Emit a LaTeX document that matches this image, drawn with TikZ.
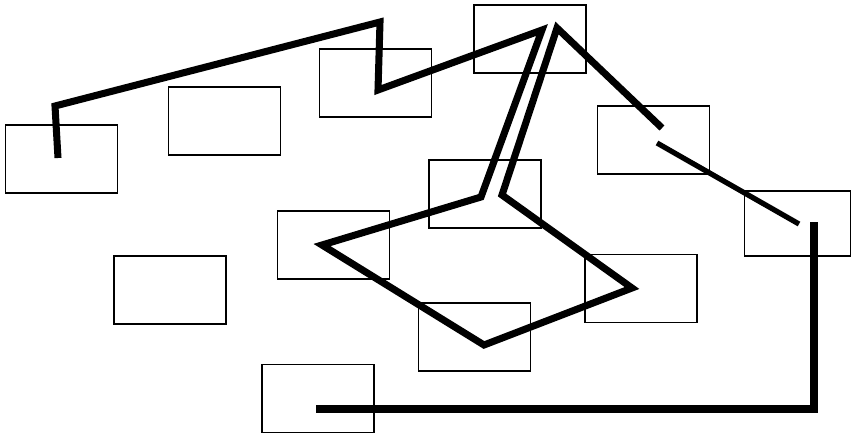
\documentclass[tikz,border=0pt]{standalone}
\begin{document}
\begin{tikzpicture}[x=0.02cm, y=-0.02cm,
    cell/.style={draw, rectangle, inner sep=0pt, minimum width=2.24cm, minimum height=1.36cm, line width=0.9pt},
    route/.style={line width=4pt, line join=miter, miter limit=4},
]
    \useasboundingbox (0,0) rectangle (854,437);

    % boxes
    \node[cell] (a) at (61.5,159) {};
    \node[cell] (b) at (224.5,121) {};
    \node[cell] (c) at (375.5,83) {};
    \node[cell] (d) at (530,39) {};
    \node[cell] (e) at (653.5,140) {};
    \node[cell] (f) at (485,194) {};
    \node[cell, minimum width=2.12cm, minimum height=1.3cm] (g) at (797.5,223.5) {};
    \node[cell] (h) at (170,290) {};
    \node[cell] (i) at (333.5,245) {};
    \node[cell] (j) at (318,398.5) {};
    \node[cell] (k) at (474.5,337) {};
    \node[cell] (l) at (641,288.5) {};

    % thick route
    \draw[route] (58,158) -- (55,106) -- (380,22) -- (378,90) -- (542,30)
        -- (481,197) -- (322,245) -- (484,345) -- (632,288)
        -- (502,195) -- (557,28) -- (662,128);
    \draw[route, line width=3pt] (657,143) -- (799,224);
    \draw[route, line width=5pt] (814,222) -- (814,409) -- (316,409);
\end{tikzpicture}
\end{document}
